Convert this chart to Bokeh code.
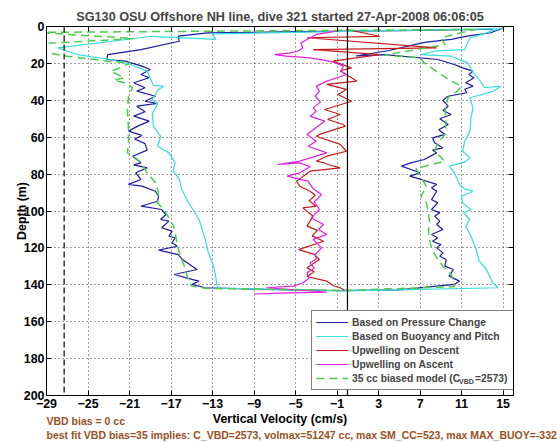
from bokeh.plotting import figure
from bokeh.models import Range1d, FixedTicker, LinearAxis, Legend, LegendItem, Span
from bokeh.embed import file_html
from bokeh.resources import INLINE

# ---------------- data ----------------
x_ticks = [-29, -25, -21, -17, -13, -9, -5, -1, 3, 7, 11, 15]
y_ticks = [0, 20, 40, 60, 80, 100, 120, 140, 160, 180, 200]

# Based on Pressure Change (descent, bottom, ascent)
press_w = [14.0, 5.0, -5.0, -13.5, -16.3, -16.2, -19.9, -23.1, -23.2, -21.4, -19.8, -19.0, -19.9, -19.1, -20.6,
           -19.5, -20.3, -18.5, -19.5, -18.3, -20.3, -19.5, -20.6, -19.1, -20.2, -21.1, -19.8, -20.5, -19.5, -19.3,
           -20.7, -19.9, -20.6, -19.3, -20.4, -19.9, -21.1, -19.8, -18.5, -18.2, -18.3, -19.9, -17.9, -17.5, -18.0,
           -17.2, -17.9, -16.9, -17.2, -16.6, -16.9, -16.4, -18.2, -16.3, -15.9, -14.5, -16.7, -15.0, -14.3, -15.0,
           -13.7, -8.0, -1.0, 5.0, 10.3, 10.8, 9.8, 10.2, 9.4, 9.5, 8.9, 9.2, 8.6, 9.0, 8.2, 8.7, 8.1, 9.2, 8.6, 8.9,
           8.4, 8.9, 8.1, 8.7, 8.1, 8.6, 8.1, 8.6, 7.1, 6.0, 7.0, 5.2, 6.1, 7.4, 8.6, 8.2, 9.2, 8.4, 8.2, 9.4, 8.8,
           9.7, 8.9, 10.0, 9.2, 9.7, 9.2, 9.7, 11.5, 11.3, 12.1, 11.4, 12.2, 11.7, 12.1, 11.1, 10.3, 8.7, 3.6, 0.8,
           4.0, 7.1, 7.6, 10.0, 11.5, 13.8, 15.1]
press_z = [1.5, 2.3, 2.8, 3.5, 5.2, 8.0, 12.5, 15.2, 17.9, 18.8, 21.5, 23.3, 26.0, 27.8, 30.5,
           33.2, 35.0, 37.8, 40.5, 41.7, 43.2, 46.2, 48.6, 51.3, 54.0, 56.7, 59.0, 61.0, 63.5, 67.0,
           70.3, 73.9, 75.0, 76.6, 79.3, 82.9, 85.6, 86.5, 89.3, 92.0, 94.7, 97.4, 99.2, 101.9, 104.6,
           105.5, 109.1, 110.9, 113.7, 114.5, 117.2, 119.1, 121.2, 123.6, 126.3, 131.7, 134.4, 137.1, 138.0, 139.8,
           141.6, 142.5, 143.2, 142.8, 139.8, 138.0, 135.3, 131.7, 129.9, 126.3, 124.5, 122.7, 120.0, 118.2, 116.4, 114.5, 112.7, 110.0, 107.3, 105.5,
           102.8, 101.0, 99.2, 95.6, 93.8, 89.3, 87.4, 85.6, 82.9, 81.1, 79.3, 75.7, 73.9, 72.1, 68.5, 67.0, 65.8, 63.0, 60.4, 58.5, 56.0,
           53.1, 50.0, 47.7, 45.5, 43.2, 40.0, 37.8, 35.9, 34.0, 32.3, 30.5, 27.8, 26.0, 24.2, 22.4, 20.6, 17.9, 15.2, 16.0,
           13.0, 9.0, 8.5, 7.0, 5.2, 3.4, 0.7]

# Based on Buoyancy and Pitch
buoy_w = [14.8, 0.0, -13.0, -12.7, -18.8, -27.9, -26.0, -24.6, -22.8, -20.9, -19.3, -19.0, -18.7, -17.7, -18.3,
          -18.8, -18.3, -18.8, -18.7, -18.0, -18.3, -17.2, -16.6, -16.8, -16.2, -16.0, -15.5, -14.8, -14.3, -13.7,
          -13.4, -12.9, -12.7, -12.6, -12.4, 0.0, 14.5, 14.0, 13.4, 12.7, 12.4, 11.9, 11.4, 11.8, 11.2, 11.9, 11.1,
          11.0, 12.1, 11.3, 10.8, 10.3, 9.8, 11.3, 11.8, 11.1, 11.3, 11.8, 11.9, 12.1, 11.8, 14.1, 14.8, 13.2, 12.7,
          12.1, 11.6, 10.0, 7.1, 8.4, 11.3, 11.8, 13.0, 13.8, 15.0]
buoy_z = [1.2, 2.6, 4.0, 7.0, 5.3, 11.6, 15.2, 16.5, 17.9, 20.6, 24.2, 28.0, 32.0, 32.3, 34.5,
          39.6, 42.3, 47.0, 54.0, 59.5, 64.9, 68.5, 73.9, 78.0, 82.9, 88.0, 93.8, 100.0, 104.6, 115.4,
          122.7, 129.9, 135.3, 139.8, 141.8, 143.3, 141.6, 138.9, 131.7, 127.2, 120.9, 113.7, 108.2, 104.6, 101.0, 99.2, 95.6,
          92.0, 89.3, 88.0, 85.6, 79.3, 75.7, 73.5, 71.2, 67.6, 62.2, 56.7, 49.5, 44.1, 38.6, 35.0, 32.3, 33.2, 28.7,
          25.1, 19.7, 16.1, 15.2, 13.4, 12.5, 6.1, 4.3, 2.5, 0.7]

# Upwelling on Descent
updesc_w = [-0.1, 3.1, -3.9, 8.6, -3.3, 3.1, -1.4, 0.4, -0.7, 0.9, -2.0, -0.1, -0.9, 0.4, -2.2, -0.7, -1.9, -0.4,
            -0.2, -2.7, -3.0, -0.7, -0.1, -2.0, -3.0, -2.2, -1.9, -0.7, -3.6, -4.9, -4.6, -3.6, -3.1, -3.7, -3.0,
            -4.3, -3.3, -3.9, -2.9, -3.4, -2.3, -4.7, -3.2, -2.7, -3.9, -3.2, -3.9, -2.0, -1.4, -0.7, -0.3]
updesc_z = [1.6, 5.3, 6.1, 11.6, 12.5, 15.2, 18.8, 22.4, 24.0, 29.6, 31.4, 34.1, 36.9, 40.5, 45.0, 47.7, 50.4, 53.1,
            54.0, 58.5, 59.5, 63.9, 67.6, 70.3, 73.0, 74.0, 74.8, 76.6, 78.4, 83.8, 86.6, 89.3, 91.5, 94.5, 97.4,
            98.3, 102.8, 108.2, 110.5, 113.5, 116.4, 120.9, 123.5, 126.3, 130.8, 133.0, 135.5, 138.0, 140.4, 141.6, 143.0]

# Upwelling on Ascent
upasc_w = [-9.0, -6.5, -2.0, -7.8, -5.2, -4.3, -3.7, -3.9, -3.2, -3.6, -3.0, -3.1, -2.5, -3.3, -2.0, -2.8, -2.3,
           -3.5, -2.7, -3.2, -2.5, -3.3, -3.8, -4.5, -5.8, -4.6, -3.6, -4.6, -6.7, -4.6, -2.0, -3.8, -3.0, -3.9,
           -3.3, -2.2, -3.6, -3.0, -3.3, -2.6, -3.1, -2.7, -3.0, -2.0, -1.0, -0.1, -0.6, -0.4, -1.5, -3.6, -5.9,
           -7.0, -5.5, -4.8, -4.3, -4.5, -3.9, -3.0, -0.5]
upasc_z = [145.0, 144.5, 144.0, 141.6, 140.7, 138.9, 136.5, 133.5, 131.0, 128.1, 126.0, 123.6, 120.0, 115.4, 112.7,
           110.0, 107.3, 103.7, 99.2, 95.0, 91.1, 88.0, 83.8, 83.0, 81.1, 79.3, 76.0, 73.9, 74.8, 73.0, 68.5, 64.9,
           62.2, 58.5, 56.0, 51.3, 48.6, 46.0, 44.1, 41.0, 37.8, 35.0, 32.3, 29.6, 27.8, 26.0, 24.2, 21.5, 19.0,
           17.0, 16.1, 15.2, 14.3, 13.4, 11.6, 9.0, 7.0, 4.3, 2.0]

# 35 cc biased model
model_w = [12.0, -30.0, -20.6, -30.0, -28.9, -27.0, -23.1, -20.9, -21.9, -22.8, -21.5, -22.5, -21.5, -20.7, -21.1,
           -21.2, -21.1, -21.1, -21.2, -20.6, -19.9, -19.3, -18.5, -18.2, -18.3, -17.7, -17.1, -16.7, -16.4, -16.1,
           -15.6, -15.3, -15.0, -13.5, 0.0, 10.3, 10.3, 10.0, 9.2, 8.6, 8.1, 7.9, 7.8, 7.9, 7.8, 7.6, 7.1, 7.6, 7.0,
           6.6, 8.1, 9.4, 8.4, 8.7, 9.4, 9.5, 9.4, 9.7, 10.6, 11.0, 10.0, 9.0, 8.1, 7.4, 7.0, 3.6, 9.4, 9.0, 11.8, 12.4]
model_z = [1.6, 3.2, 6.5, 9.5, 14.3, 16.1, 18.8, 19.7, 22.4, 24.2, 27.8, 29.0, 30.5, 33.2, 37.8,
           45.0, 55.8, 63.0, 68.5, 70.3, 73.9, 79.3, 84.7, 90.1, 95.6, 99.2, 104.6, 109.1, 118.2, 124.5,
           131.7, 138.0, 140.7, 142.0, 143.0, 141.0, 138.9, 134.4, 129.9, 125.4, 120.0, 115.4, 110.0, 105.5, 101.0, 95.6, 92.0, 86.5, 81.1,
           77.0, 74.8, 73.0, 67.6, 63.0, 58.5, 51.3, 45.0, 38.6, 35.0, 32.3, 29.6, 26.0, 22.4, 19.7, 17.0, 15.5, 9.8, 6.1, 2.2, 1.6]

zero_line = 0.0
model_limit_line = -27.3

labels = ["Based on Pressure Change", "Based on Buoyancy and Pitch", "Upwelling on Descent",
          "Upwelling on Ascent", "35 cc biased model (C"]
label_sub = "VBD"
label_tail = "=2573)"

title_text = "SG130 OSU Offshore NH line, dive 321 started 27-Apr-2008 06:06:05"
x_label = "Vertical Velocity (cm/s)"
y_label = "Depth (m)"
note1 = "VBD bias = 0 cc"
note2 = "best fit VBD bias=35 implies: C_VBD=2573, volmax=51247 cc, max SM_CC=523, max MAX_BUOY=-332"
# x position (axis units) of the centre of each note, so that both start at the left edge
note1_center = -25.22
note2_center = -4.41

# ---------------- figure ----------------
FONT = "Liberation Sans"
BROWN = "#99501f"

p = figure(frame_width=467, frame_height=369, min_border_left=46, min_border_right=47,
           min_border_top=26, min_border_bottom=46,
           x_range=Range1d(-29, 16), y_range=Range1d(200, 0),
           output_backend="svg", toolbar_location=None)
p.outline_line_color = "black"
p.outline_line_width = 1
p.background_fill_color = "white"
p.border_fill_color = "white"

p.title.text = title_text
p.title.align = "center"
p.title.text_font = FONT
p.title.text_font_style = "bold"
p.title.text_font_size = "12.7px"
p.title.standoff = 5

for ax in p.xaxis:
    ax.ticker = FixedTicker(ticks=x_ticks)
for ax in p.yaxis:
    ax.ticker = FixedTicker(ticks=y_ticks)

for ax in list(p.xaxis) + list(p.yaxis):
    ax.major_tick_in = 5
    ax.major_tick_out = 0
    ax.minor_tick_line_color = None
    ax.axis_line_color = "black"
    ax.major_label_text_font = FONT
    ax.major_label_text_font_style = "bold"
    ax.major_label_text_font_size = "12.4px"
    ax.major_label_text_color = "black"
    ax.axis_label_text_font = FONT
    ax.axis_label_text_font_style = "bold"
    ax.axis_label_text_font_size = "12.4px"
    ax.axis_label_text_color = "black"

p.xaxis.major_label_standoff = 3
p.yaxis.major_label_standoff = 2
p.xaxis.axis_label = x_label
p.xaxis.axis_label_standoff = 1
p.yaxis.axis_label = y_label
p.yaxis.axis_label_standoff = -8

# inward ticks on the top and right edges (no labels)
for loc, tk in (("right", y_ticks), ("above", x_ticks)):
    ax2 = LinearAxis(ticker=FixedTicker(ticks=tk), major_tick_in=5, major_tick_out=0,
                     minor_tick_line_color=None, axis_line_color="black",
                     major_label_text_font_size="0px", major_label_text_color=None,
                     major_label_standoff=0)
    p.add_layout(ax2, loc)

# the two brown notes under the axis: each one is the single tick label of a bare axis
for note, centre, standoff in ((note1, note1_center, -14), (note2, note2_center, -1)):
    nax = LinearAxis(ticker=FixedTicker(ticks=[centre]), axis_line_color=None,
                     major_tick_line_color=None, minor_tick_line_color=None,
                     major_tick_in=0, major_tick_out=0,
                     major_label_overrides={centre: note},
                     major_label_standoff=standoff,
                     major_label_text_font=FONT, major_label_text_font_style="bold",
                     major_label_text_font_size="10.5px", major_label_text_color=BROWN)
    p.add_layout(nax, "below")

p.xgrid.ticker = FixedTicker(ticks=x_ticks)
p.ygrid.ticker = FixedTicker(ticks=y_ticks)
for g in (p.xgrid, p.ygrid):
    g.grid_line_color = "#303030"
    g.grid_line_dash = "1 3"
    g.grid_line_width = 1
    g.grid_line_alpha = 0.9

p.add_layout(Span(location=model_limit_line, dimension="height", line_color="black",
                  line_dash="6 3", line_width=1.2))
p.add_layout(Span(location=zero_line, dimension="height", line_color="black", line_width=1.2))

r1 = p.line(press_w, press_z, line_color="#1c1ca0", line_width=1.2)
r2 = p.line(buoy_w, buoy_z, line_color="#36dede", line_width=1.2)
r3 = p.line(updesc_w, updesc_z, line_color="#c41a1a", line_width=1.2)
r4 = p.line(upasc_w, upasc_z, line_color="#e020e0", line_width=1.2)
r5 = p.line(model_w, model_z, line_color="#4ccc4c", line_width=1.5, line_dash="8 5")
# invisible renderer, only used to carry the text pieces of the last legend entry
r_blank = p.line(model_w[:2], model_z[:2], line_alpha=0)

common = dict(orientation="vertical", label_text_font=FONT, label_text_font_style="bold",
              spacing=0, margin=0)

legend = Legend(items=[LegendItem(label=l, renderers=[r]) for l, r in zip(labels, [r1, r2, r3, r4, r5])],
                location=(265, 5), label_text_font_size="10.3px",
                label_height=14, glyph_height=14, glyph_width=32, label_standoff=4, label_width=159,
                padding=4, border_line_color="black", border_line_width=1,
                background_fill_color="white", background_fill_alpha=1.0, **common)
p.add_layout(legend, "center")

legend_sub = Legend(items=[LegendItem(label=label_sub, renderers=[r_blank])],
                    location=(413, 7), label_text_font_size="7px",
                    label_height=14, glyph_height=14, glyph_width=0, label_standoff=0, label_width=10,
                    padding=0, border_line_color=None, background_fill_alpha=0.0, **common)
p.add_layout(legend_sub, "center")

legend_tail = Legend(items=[LegendItem(label=label_tail, renderers=[r_blank])],
                     location=(429, 10), label_text_font_size="10.3px",
                     label_height=14, glyph_height=14, glyph_width=0, label_standoff=0, label_width=10,
                     padding=0, border_line_color=None, background_fill_alpha=0.0, **common)
p.add_layout(legend_tail, "center")

open("out.html", "w").write(file_html(p, INLINE))
